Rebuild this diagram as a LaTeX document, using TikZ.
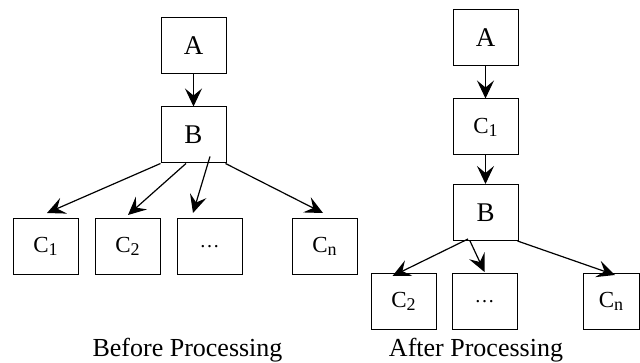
\documentclass[tikz,border=0pt]{standalone}
\usepackage{fontspec}
\setmainfont{Liberation Serif}
\usetikzlibrary{arrows.meta,calc}
% letter with a lowered, smaller index
\newcommand{\csub}[2]{{\fontsize{23}{23}\selectfont #1}\raisebox{-3pt}{\fontsize{18}{18}\selectfont #2}}

\begin{document}
\begin{tikzpicture}[x=1pt,y=-1pt,
  box/.style={draw,line width=1pt,minimum width=65pt,minimum height=56pt,
              inner sep=0pt,font=\fontsize{27}{27}\selectfont},
  arr/.style={line width=1.2pt,-{Stealth[length=18pt,width=17pt,inset=7pt]}},
  caption/.style={font=\fontsize{26}{26}\selectfont,anchor=base,inner sep=0pt}]
\useasboundingbox (0,0) rectangle (640,363);

% ---- before processing ----
\node[box] (A)  at (193.5,46)  {A};
\node[box] (B)  at (193.5,135) {B};
\node[box] (C1) at (45.5,246.5)  {\csub{C}{1}};
\node[box] (C2) at (127.5,246.5) {\csub{C}{2}};
\node[box] (D)  at (209.5,246.5) {\fontsize{20}{20}\selectfont\dots};
\node[box] (Cn) at (324.5,246.5) {\csub{C}{n}};

\draw[arr] (A.south) -- (B.north);
\draw[arr] (B.south west) -- ($(C1.north)+(1.5,-5)$);
\draw[arr] ($(B.south)+(-7.5,0)$) -- ($(C2.north)+(0.5,-3)$);
\draw[arr] ($(B.south)+(16.5,-7)$) -- ($(D.north)+(-16.5,-5)$);
\draw[arr] ($(B.south east)+(-1,0)$) -- ($(Cn.north)+(-1.5,-5)$);

\node[caption] (cap1) at (187.5,356.5) {Before Processing};

% ---- after processing ----
\node[box] (rA)  at (485.5,38)   {A};
\node[box] (rC1) at (485.5,127)  {\csub{C}{1}};
\node[box] (rB)  at (485.5,212.5) {B};
\node[box] (rC2) at (403.5,301.5) {\csub{C}{2}};
\node[box] (rD)  at (484.5,301.5) {\fontsize{20}{20}\selectfont\dots};
\node[box,minimum width=56pt] (rCn) at (611,301.5) {\csub{C}{n}};

\draw[arr] (rA.south) -- (rC1.north);
\draw[arr] (rC1.south) -- (rB.north);
\draw[arr] ($(rB.south)+(-17.5,-2)$) -- ($(rC2.north)+(-11,3)$);
\draw[arr] ($(rB.south)+(-15.5,0)$) -- ($(rD.north)+(0,-1)$);
\draw[arr] ($(rB.south east)+(-1,0)$) -- ($(rCn.north)+(4,2)$);

\node[caption] (cap2) at (476,356.5) {After Processing};
\end{tikzpicture}
\end{document}
